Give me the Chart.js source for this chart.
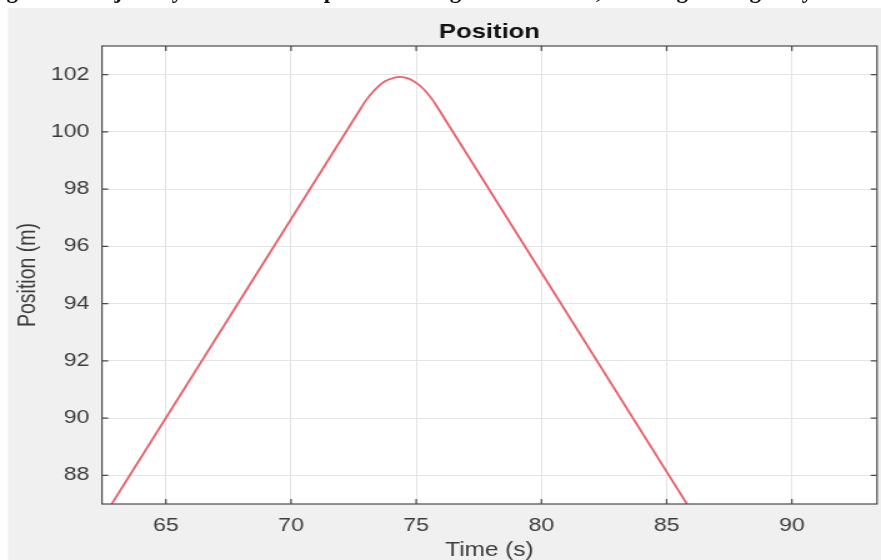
<!DOCTYPE html>
<html>
<head>
<meta charset="utf-8">
<script src="https://cdn.jsdelivr.net/npm/chart.js@4.4.1/dist/chart.umd.min.js"></script>
<style>
  html, body { margin: 0; padding: 0; background: #fff; overflow: hidden; }
  #page { position: relative; width: 881px; height: 560px; overflow: hidden; }
  #caption {
    position: absolute; left: -14px; top: -22px; white-space: nowrap;
    font: bold 23px "Liberation Serif", serif; color: #111;
  }
  #wrap { position: absolute; left: 0; top: 0; width: 705px; height: 560px;
          transform: scaleX(1.2496); transform-origin: 0 0; }
  #wrap canvas { display: block; }
</style>
</head>
<body>
<div id="page">
  <div id="wrap"><canvas id="posChart" width="705" height="560"></canvas></div>
  <div id="caption">Figure 9. Trajectory of the vehicle position along the test track, showing the highway manoeuvre</div>
</div>
<script>
// time (s) and position (m)
const times = [62.84, 72.82, 73.0, 73.3, 73.6, 73.9, 74.33, 74.7, 75.0, 75.3, 75.6, 75.84, 85.81];
const positions = [87.0, 100.87, 101.11, 101.43, 101.68, 101.83, 101.92, 101.86, 101.71, 101.49, 101.18, 100.87, 87.0];

const xTicks = [65, 70, 75, 80, 85, 90];
const yTicks = [88, 90, 92, 94, 96, 98, 100, 102];
const xRange = [62.45, 93.4];
const yRange = [87, 103];

const tickFont = { family: "'Liberation Sans', Arial, sans-serif", size: 18.5 };
const labelFont = { family: "'Liberation Sans', Arial, sans-serif", size: 19.5, lineHeight: 1 };

// grey figure background + white axes area
const background = {
  id: 'background',
  beforeDraw(chart) {
    const { ctx, chartArea: a } = chart;
    ctx.save();
    ctx.fillStyle = '#ffffff';
    ctx.fillRect(0, 0, chart.width, chart.height);
    ctx.fillStyle = '#f0f0f0';
    ctx.fillRect(6.4, 8, chart.width, chart.height);
    ctx.fillStyle = '#ffffff';
    ctx.fillRect(a.left, a.top, a.right - a.left, a.bottom - a.top);
    ctx.restore();
  }
};

// matlab style box with inward ticks on all four sides
const boxTicks = {
  id: 'boxTicks',
  afterDraw(chart) {
    const { ctx, chartArea: a, scales } = chart;
    ctx.save();
    ctx.strokeStyle = '#4a4a4a';
    ctx.lineWidth = 1.2;
    ctx.strokeRect(a.left, a.top, a.right - a.left, a.bottom - a.top);
    ctx.beginPath();
    xTicks.forEach(v => {
      const px = scales.x.getPixelForValue(v);
      ctx.moveTo(px, a.bottom); ctx.lineTo(px, a.bottom - 5);
      ctx.moveTo(px, a.top); ctx.lineTo(px, a.top + 5);
    });
    yTicks.forEach(v => {
      const py = scales.y.getPixelForValue(v);
      ctx.moveTo(a.left, py); ctx.lineTo(a.left + 5, py);
      ctx.moveTo(a.right, py); ctx.lineTo(a.right - 5, py);
    });
    ctx.stroke();
    ctx.restore();
  }
};

new Chart(document.getElementById('posChart'), {
  type: 'line',
  data: {
    datasets: [{
      label: 'Position',
      data: times.map((t, i) => ({ x: t, y: positions[i] })),
      borderColor: '#e8606c',
      borderWidth: 1.8,
      pointRadius: 0,
      tension: 0.3,
      fill: false
    }]
  },
  options: {
    responsive: false,
    animation: false,
    devicePixelRatio: 1,
    layout: { padding: { top: 10, right: 3.2, bottom: 0, left: 0 } },
    plugins: {
      legend: { display: false },
      tooltip: { enabled: false },
      title: {
        display: true,
        text: 'Position',
        fullSize: false,
        color: '#111',
        font: { family: "'Liberation Sans', Arial, sans-serif", size: 20.5, weight: 'bold', lineHeight: 1.2 },
        padding: { top: 9.7, bottom: 1.7 }
      }
    },
    scales: {
      x: {
        type: 'linear',
        min: xRange[0],
        max: xRange[1],
        afterBuildTicks: s => { s.ticks = xTicks.map(v => ({ value: v })); },
        afterFit: s => { s.height = 56; },
        ticks: { color: '#3c3c3c', font: tickFont, padding: 11, maxRotation: 0 },
        grid: { color: '#e4e4e4', drawTicks: false },
        border: { display: false },
        title: { display: true, text: 'Time (s)', color: '#3c3c3c', font: labelFont, padding: { top: 0, bottom: 0 } }
      },
      y: {
        type: 'linear',
        min: yRange[0],
        max: yRange[1],
        afterBuildTicks: s => { s.ticks = yTicks.map(v => ({ value: v })); },
        afterFit: s => { s.width = 81.6; },
        ticks: { color: '#3c3c3c', font: tickFont, padding: 10 },
        grid: { color: '#e4e4e4', drawTicks: false },
        border: { display: false },
        title: { display: true, text: 'Position (m)', color: '#3c3c3c', font: labelFont, padding: { top: 13, bottom: 0 } }
      }
    }
  },
  plugins: [background, boxTicks]
});
</script>
</body>
</html>
